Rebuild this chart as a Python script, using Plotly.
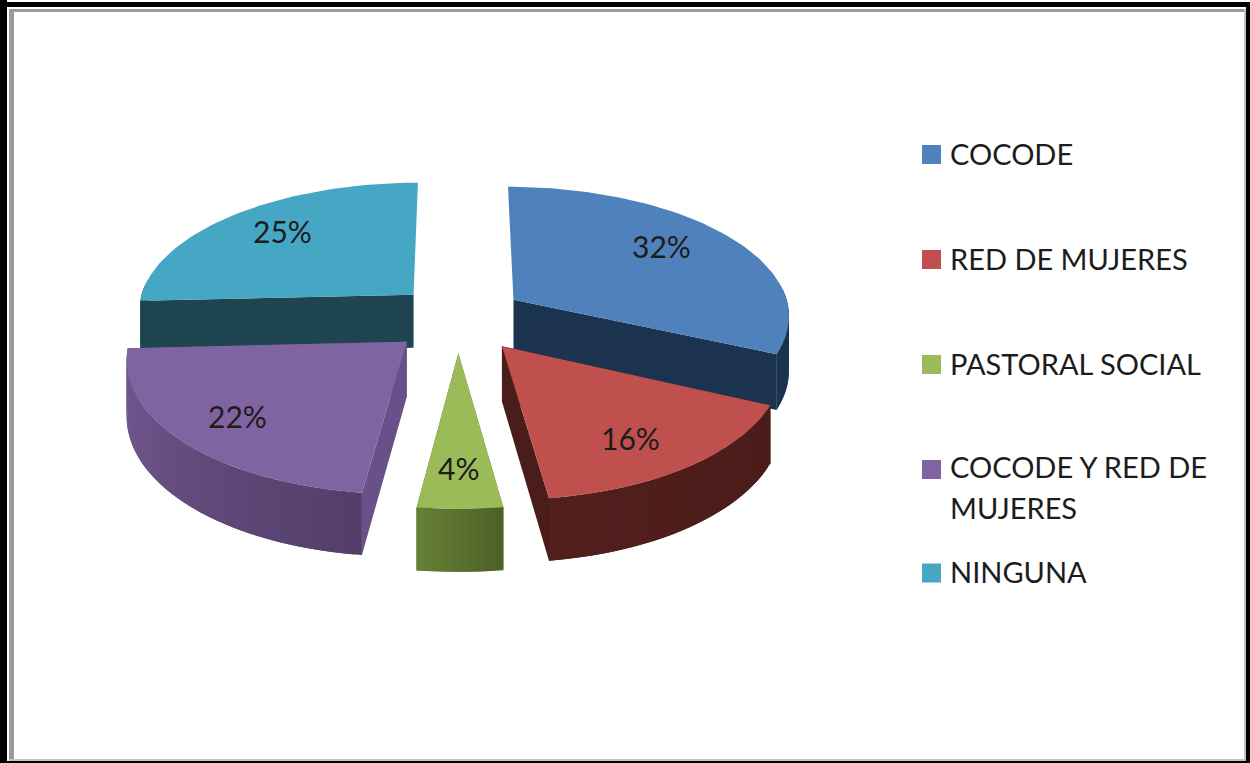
import math
import plotly.graph_objects as go

CATEGORIES = ["COCODE", "RED DE MUJERES", "PASTORAL SOCIAL", "COCODE Y RED DE<br>MUJERES", "NINGUNA"]
# shares; the printed labels are the rounded figures
VALUES = [31.8, 16.1, 4.05, 22.3, 25.75]
LABELS = ["32%", "16%", "4%", "22%", "25%"]
TOP_COLORS = ["#4f81bd", "#c0504d", "#9bbb59", "#8064a2", "#46a7c4"]

# wall shading: (cut face, outer wall start, outer wall end) per slice
SHADES = [
    ("#1c3350", "#1c3350", "#1c3350"),
    ("#4a1c1a", "#4a1c1a", "#521f1c"),
    ("#5a6f30", "#4e6128", "#657f35"),
    ("#6a5088", "#533e69", "#765a94"),
    ("#1f4550", "#1f4550", "#1f4550"),
]
PULL_X = [0.93, 1.0, 1.0, 0.95, 0.87]
RIM_X = [1.02, 1.0, 1.08, 1.0, 1.02]
DRAW_ORDER = [4, 0, 3, 1, 2]

CX, CY, RX, RY, PERSP, DEPTH, PULL = 458, 318, 272, 129.5, 0.112, 54, 0.265


def project(u, v, z=0.0):
    s = 1 / (1 - PERSP * v)
    return CX + RX * u * s, CY + (RY * v + DEPTH * z) * s


def mix(a, b, t):
    pa = [int(a[i:i + 2], 16) for i in (1, 3, 5)]
    pb = [int(b[i:i + 2], 16) for i in (1, 3, 5)]
    return "#%02x%02x%02x" % tuple(round(x + (y - x) * t) for x, y in zip(pa, pb))


def poly(points, color):
    return go.Scatter(
        x=[p[0] for p in points] + [points[0][0]],
        y=[p[1] for p in points] + [points[0][1]],
        mode="lines", fill="toself", fillcolor=color,
        line=dict(color=color, width=0), hoverinfo="skip", showlegend=False,
    )


fig = go.Figure()
total = sum(VALUES)
starts, acc = [], 0.0
for val in VALUES:
    starts.append(acc)
    acc += val / total * 2 * math.pi

for i in DRAW_ORDER:
    a0 = starts[i]
    a1 = a0 + VALUES[i] / total * 2 * math.pi
    mid = (a0 + a1) / 2
    au, av = PULL * PULL_X[i] * math.sin(mid), -PULL * math.cos(mid)
    rim = lambda a: (au + RIM_X[i] * math.sin(a), av - math.cos(a))
    n = max(6, int((a1 - a0) * 40))
    angles = [a0 + (a1 - a0) * k / n for k in range(n + 1)]
    cut, w0, w1 = SHADES[i]
    for a in (a0, a1):
        u, v = rim(a)
        if v > av:  # a cut face is seen only when it runs towards the viewer
            fig.add_trace(poly([project(au, av), project(u, v), project(u, v, 1), project(au, av, 1)], cut))
    for k in range(n):
        if math.cos(angles[k]) > 0.08 and math.cos(angles[k + 1]) > 0.08:
            continue
        u0, v0 = rim(angles[k])
        u1, v1 = rim(angles[min(k + 2, n)])  # overlap the next step so no seam shows
        color = mix(w0, w1, k / max(1, n - 1))
        fig.add_trace(poly([project(u0, v0), project(u1, v1), project(u1, v1, 1), project(u0, v0, 1)], color))
    top = [project(au, av)] + [project(*rim(a)) for a in angles]
    fig.add_trace(poly(top, TOP_COLORS[i]))

label_pos = [(661, 246), (630, 438), (458, 468), (237, 416), (282, 231)]
for (x, y), text in zip(label_pos, LABELS):
    fig.add_annotation(x=x, y=y, text=text, showarrow=False, xref="x", yref="y",
                       font=dict(family="Lato", size=30, color="#1c1c1c"))

swatch_y = [154.5, 259.5, 364.5, 469.5, 573]
text_y = [[153], [258], [363], [466, 507], [571]]
for by, ys, name, color in zip(swatch_y, text_y, CATEGORIES, TOP_COLORS):
    fig.add_shape(type="rect", x0=922, x1=941, y0=by - 9.5, y1=by + 9.5, xref="x", yref="y",
                  fillcolor=color, line=dict(width=0))
    for yt, part in zip(ys, name.split("<br>")):
        fig.add_annotation(x=948, y=yt, text=part, showarrow=False, xref="x", yref="y",
                           xanchor="left", align="left",
                           font=dict(family="Lato", size=29, color="#1c1c1c"))

frame = [
    (0, 2, 1250, 7, "#000000"), (0, 0, 7, 763, "#000000"),
    (1246, 2, 1250, 763, "#000000"), (0, 761, 1250, 763, "#000000"),
    (9, 9, 1246, 12, "#9a9a9a"), (9, 9, 14, 761, "#9a9a9a"),
    (1244, 9, 1246, 761, "#c4c4c4"), (9, 759, 1246, 761, "#c4c4c4"),
]
for x0, y0, x1, y1, color in frame:
    fig.add_shape(type="rect", x0=x0, y0=y0, x1=x1, y1=y1, xref="x", yref="y",
                  fillcolor=color, line=dict(width=0))

fig.update_layout(
    width=1250, height=763, margin=dict(l=0, r=0, t=0, b=0),
    paper_bgcolor="white", plot_bgcolor="white", showlegend=False,
    xaxis=dict(range=[0, 1250], visible=False, fixedrange=True),
    yaxis=dict(range=[763, 0], visible=False, fixedrange=True),
)
fig.write_html("out.html", config={"displayModeBar": False},
               post_script="document.body.style.margin='0';document.body.style.overflow='hidden';")
